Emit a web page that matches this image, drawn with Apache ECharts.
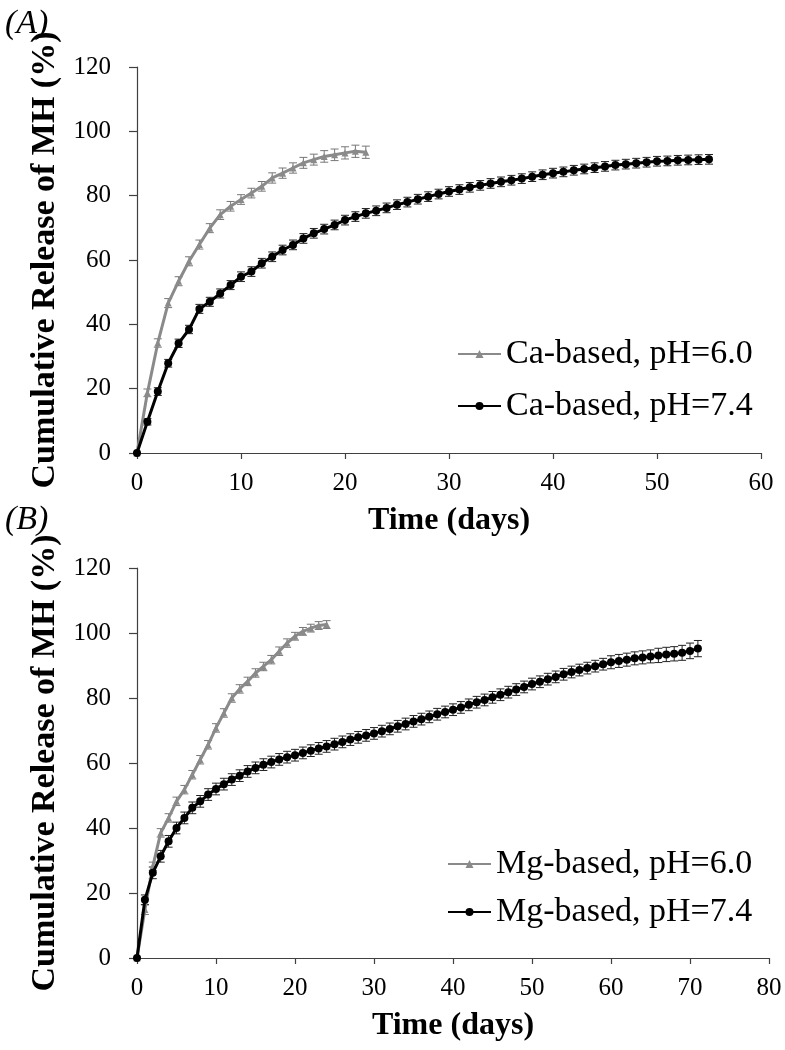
<!DOCTYPE html>
<html>
<head>
<meta charset="utf-8">
<script src="https://cdn.jsdelivr.net/npm/echarts@6/dist/echarts.min.js"></script>
<style>html,body{margin:0;padding:0;background:#fff;}#c{width:785px;height:1050px;}</style>
</head>
<body>
<div id="c"></div>
<script>
// ---- Data ----
// Panel A: Ca-based, days 0..22 (pH 6.0) and 0..55 (pH 7.4)
const caDays60 = [0,1,2,3,4,5,6,7,8,9,10,11,12,13,14,15,16,17,18,19,20,21,22];
const caPH60 = [0,18.7,34.2,46.6,53.4,59.6,64.8,69.9,74.1,76.7,78.8,80.8,82.9,85.5,87.0,88.6,90.2,91.2,92.2,92.7,93.3,93.8,93.5];
const caPH60Err = [0,1.2,1.3,1.4,1.4,1.4,1.4,1.4,1.5,1.5,1.5,1.5,1.5,1.6,1.6,1.6,1.7,1.7,1.8,1.8,1.9,1.9,1.9];
const caDays74 = [0,1,2,3,4,5,6,7,8,9,10,11,12,13,14,15,16,17,18,19,20,21,22,23,24,25,26,27,28,29,30,31,32,33,34,35,36,37,38,39,40,41,42,43,44,45,46,47,48,49,50,51,52,53,54,55];
const caPH74 = [0,9.7,19.1,27.9,34.1,38.4,44.8,47.0,49.6,52.2,54.8,56.4,59.0,61.0,63.1,64.7,66.7,68.3,69.6,70.9,72.4,73.5,74.5,75.3,
  76.2,77.2,78.0,78.9,79.7,80.5,81.3,81.9,82.6,83.2,83.8,84.3,84.8,85.3,85.9,86.5,87.0,87.4,87.9,88.3,88.7,89.1,89.5,89.8,90.1,90.4,90.7,90.8,91.0,91.1,91.2,91.3];
const caPH74Err = [0,1.0,1.2,1.2,1.3,1.3,1.4,1.4,1.4,1.4,1.5,1.5,1.5,1.5,1.5,1.5,1.5,1.5,1.5,1.5,1.5,1.5,1.5,1.5,
  1.5,1.5,1.5,1.5,1.5,1.5,1.5,1.5,1.5,1.5,1.5,1.5,1.5,1.5,1.5,1.5,1.5,1.5,1.5,1.5,1.5,1.5,1.5,1.5,1.5,1.5,1.5,1.5,1.5,1.5,1.5,1.5];

// Panel B: Mg-based, days 0..24 (pH 6.0) and 0..71 (pH 7.4)
const mgDays60 = [0,1,2,3,4,5,6,7,8,9,10,11,12,13,14,15,16,17,18,19,20,21,22,23,24];
const mgPH60 = [0,14.9,28.2,38.5,43.1,48.2,51.8,56.4,61.0,65.6,70.8,75.4,80.0,82.8,85.1,87.7,89.7,91.8,94.4,96.9,99.0,100.5,101.5,102.3,102.6];
const mgPH60Err = [0,1.5,1.3,1.3,1.3,1.3,1.3,1.3,1.3,1.3,1.3,1.3,1.3,1.3,1.3,1.3,1.3,1.3,1.3,1.3,1.2,1.2,1.2,1.2,1.2];
const mgDays74 = [0,1,2,3,4,5,6,7,8,9,10,11,12,13,14,15,16,17,18,19,20,21,22,23,24,25,26,27,28,29,30,31,32,33,34,35,36,37,38,39,40,41,42,43,44,45,46,47,48,49,50,51,52,53,54,55,56,57,58,59,60,61,62,63,64,65,66,67,68,69,70,71];
const mgPH74 = [0,17.9,26.2,31.3,35.9,40.0,43.1,46.2,48.2,50.3,52.0,53.5,54.9,56.1,57.4,58.5,59.5,60.3,61.1,61.8,62.4,
  63.1,63.8,64.5,65.1,65.8,66.5,67.2,67.9,68.5,69.1,69.8,70.5,71.3,72.0,72.8,73.5,74.2,75.0,75.7,76.4,
  77.1,77.9,78.7,79.4,80.2,81.0,81.8,82.6,83.4,84.3,85.0,85.8,86.5,87.3,88.0,88.6,89.2,89.8,90.4,91.0,
  91.4,91.8,92.2,92.5,92.8,93.1,93.4,93.6,93.9,94.5,95.2];
const mgPH74Err = [0,1.5,1.8,1.8,1.8,1.8,1.8,1.8,1.8,1.8,1.8,1.8,1.8,1.8,1.8,1.8,1.8,1.8,1.8,1.8,1.8,
  1.8,1.8,1.8,1.8,1.8,1.8,1.8,1.8,1.8,1.8,1.8,1.8,1.8,1.8,1.8,1.8,1.8,1.8,1.8,1.8,
  1.8,1.8,1.8,1.8,1.8,1.8,1.8,1.8,1.8,1.8,1.8,1.8,1.8,1.8,1.8,1.8,1.8,1.8,1.8,2.0,
  2.0,2.0,2.0,2.0,2.0,2.2,2.2,2.2,2.3,2.4,2.5];

const xTicksA = [0,10,20,30,40,50,60];
const xTicksB = [0,10,20,30,40,50,60,70,80];
const yTicks = [0,20,40,60,80,100,120];

// ---- Chart ----
const FONT = 'Liberation Serif';
const GRAY = '#8a8a8a';
const BLACK = '#000000';
const AXIS = '#404040';

function pairs(xs, ys){ return xs.map((x,i)=>[x, ys[i]]); }
function errData(xs, ys, es){ return xs.map((x,i)=>[x, ys[i]-es[i], ys[i]+es[i]]); }

function errorSeries(name, gi, data, color){
  return {
    type:'custom', name: name + ' err', xAxisIndex: gi, yAxisIndex: gi, z: 1, silent: true,
    data: data,
    renderItem: function(params, api){
      const x = api.value(0), lo = api.value(1), hi = api.value(2);
      const p1 = api.coord([x, lo]), p2 = api.coord([x, hi]);
      const w = 4;
      const st = {stroke: color, lineWidth: 1};
      return {type:'group', children:[
        {type:'line', shape:{x1:p1[0], y1:p1[1], x2:p2[0], y2:p2[1]}, style: st},
        {type:'line', shape:{x1:p1[0]-w, y1:p1[1], x2:p1[0]+w, y2:p1[1]}, style: st},
        {type:'line', shape:{x1:p2[0]-w, y1:p2[1], x2:p2[0]+w, y2:p2[1]}, style: st}
      ]};
    }
  };
}

function xAxis(gi, max){
  return {
    type:'value', gridIndex: gi, min:0, max:max, interval:10,
    name:'Time (days)', nameLocation:'middle', nameGap:52,
    nameTextStyle:{fontFamily:FONT, fontWeight:'bold', fontSize:32, color:'#000'},
    axisLine:{show:true, onZero:false, lineStyle:{color:AXIS, width:1.2}},
    axisTick:{show:true, inside:false, length:6, lineStyle:{color:AXIS, width:1.2}},
    axisLabel:{fontFamily:FONT, fontSize:25, color:'#000', margin:18},
    splitLine:{show:false}
  };
}
function yAxis(gi){
  return {
    type:'value', gridIndex: gi, min:0, max:120, interval:20,
    name:'Cumulative Release of MH (%)', nameLocation:'middle', nameGap:65,
    nameTextStyle:{fontFamily:FONT, fontWeight:'bold', fontSize:34, color:'#000'},
    axisLine:{show:true, lineStyle:{color:AXIS, width:1.2}},
    axisTick:{show:true, inside:false, length:8, lineStyle:{color:AXIS, width:1.2}},
    axisLabel:{fontFamily:FONT, fontSize:25, color:'#000', margin:26},
    splitLine:{show:false}
  };
}

const option = {
  backgroundColor:'#fff',
  animation:false,
  title:[
    {text:'(A)', left:0, top:2, textStyle:{fontFamily:FONT, fontStyle:'italic', fontWeight:'normal', fontSize:34, color:'#000'}},
    {text:'(B)', left:0, top:498, textStyle:{fontFamily:FONT, fontStyle:'italic', fontWeight:'normal', fontSize:34, color:'#000'}}
  ],
  grid:[
    {left:137, right:24, top:67, height:386},
    {left:137, right:16, top:568, height:390}
  ],
  xAxis:[xAxis(0,60), xAxis(1,80)],
  yAxis:[yAxis(0), yAxis(1)],
  legend:[
    {data:['Ca-based, pH=6.0','Ca-based, pH=7.4'], orient:'vertical', left:452, top:332,
     itemWidth:43, itemHeight:10, itemGap:18,
     textStyle:{fontFamily:FONT, fontSize:34, color:'#000'}},
    {data:['Mg-based, pH=6.0','Mg-based, pH=7.4'], orient:'vertical', left:442, top:842,
     itemWidth:43, itemHeight:10, itemGap:14,
     textStyle:{fontFamily:FONT, fontSize:34, color:'#000'}}
  ],
  series:[
    errorSeries('Ca-based, pH=6.0', 0, errData(caDays60, caPH60, caPH60Err), '#777'),
    errorSeries('Ca-based, pH=7.4', 0, errData(caDays74, caPH74, caPH74Err), '#222'),
    errorSeries('Mg-based, pH=6.0', 1, errData(mgDays60, mgPH60, mgPH60Err), '#777'),
    errorSeries('Mg-based, pH=7.4', 1, errData(mgDays74, mgPH74, mgPH74Err), '#222'),
    {type:'line', name:'Ca-based, pH=6.0', xAxisIndex:0, yAxisIndex:0, z:3,
     data: pairs(caDays60, caPH60), symbol:'triangle', symbolSize:7,
     lineStyle:{color:GRAY, width:3}, itemStyle:{color:GRAY}},
    {type:'line', name:'Ca-based, pH=7.4', xAxisIndex:0, yAxisIndex:0, z:4,
     data: pairs(caDays74, caPH74), symbol:'circle', symbolSize:8,
     lineStyle:{color:BLACK, width:3}, itemStyle:{color:BLACK}},
    {type:'line', name:'Mg-based, pH=6.0', xAxisIndex:1, yAxisIndex:1, z:3,
     data: pairs(mgDays60, mgPH60), symbol:'triangle', symbolSize:7,
     lineStyle:{color:GRAY, width:3}, itemStyle:{color:GRAY}},
    {type:'line', name:'Mg-based, pH=7.4', xAxisIndex:1, yAxisIndex:1, z:4,
     data: pairs(mgDays74, mgPH74), symbol:'circle', symbolSize:8,
     lineStyle:{color:BLACK, width:3}, itemStyle:{color:BLACK}}
  ]
};
const chart = echarts.init(document.getElementById('c'), null, {renderer:'canvas'});
chart.setOption(option);
</script>
</body>
</html>
